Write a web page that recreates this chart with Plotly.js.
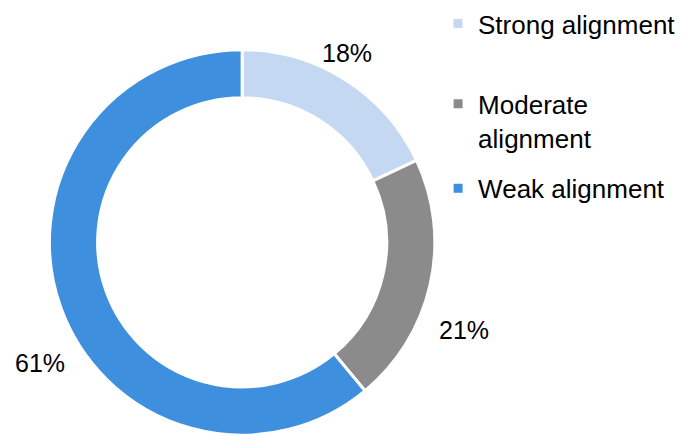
<!DOCTYPE html>
<html><head><meta charset="utf-8">
<script src="https://cdn.plot.ly/plotly-3.0.1.min.js"></script>
<style>html,body{margin:0;padding:0;background:#fff;}#chart{width:681px;height:436px;}</style>
</head><body><div id="chart"></div>
<script>
const categories = ["Strong alignment", "Moderate<br>alignment", "Weak alignment"];
const shares = [18, 21, 61];
const colors = ["#C5D8F2", "#8C8B8B", "#3E8FDE"];

const FONT = "Liberation Sans, Arial, sans-serif";

const pie = {
  type: "pie",
  labels: categories,
  values: shares,
  hole: 0.75,
  sort: false,
  direction: "clockwise",
  rotation: 0,
  marker: {colors: colors, line: {color: "#ffffff", width: 3}},
  textinfo: "none",
  automargin: false,
  showlegend: false,
  domain: {x: [50/681, 440/681], y: [0, 1 - 46/436]},
  hoverinfo: "none"
};

// one legend per category (separately positioned legends)
const legendIds = ["legend", "legend2", "legend3"];
const legendTraces = categories.map((c, i) => ({
  type: "scatter", mode: "markers", x: [null], y: [null],
  name: c, legend: legendIds[i], showlegend: true,
  marker: {symbol: "square", size: 9, color: colors[i]},
  hoverinfo: "none"
}));

// percent label placements (paper px, style only)
const labelPos = [[351, 50], [470, 329], [40, 362]];
const annotations = shares.map((v, i) => ({
  xref: "paper", yref: "paper",
  x: labelPos[i][0] / 681, y: 1 - labelPos[i][1] / 436,
  xanchor: "center", yanchor: "middle",
  text: v + "%", showarrow: false,
  font: {family: FONT, size: 25, color: "#000"}
}));

const legendBase = {x: 0.651, xanchor: "left", yanchor: "top", valign: "top",
  bgcolor: "rgba(0,0,0,0)", itemclick: false,
  font: {family: FONT, size: 26, color: "#000"}};
const legendTops = [-3, 78, 163];

const layout = {
  width: 681, height: 436,
  margin: {l: 0, r: 0, t: 0, b: 0},
  paper_bgcolor: "#fff", plot_bgcolor: "#fff",
  showlegend: true,
  xaxis: {visible: false, domain: [0.99, 1]},
  yaxis: {visible: false, domain: [0.99, 1]},
  annotations: annotations,
  font: {family: FONT}
};
legendIds.forEach((id, i) => {
  layout[id] = Object.assign({}, legendBase, {y: 1 - legendTops[i] / 436});
});
Plotly.newPlot("chart", [pie].concat(legendTraces), layout, {staticPlot: true});
</script></body></html>
